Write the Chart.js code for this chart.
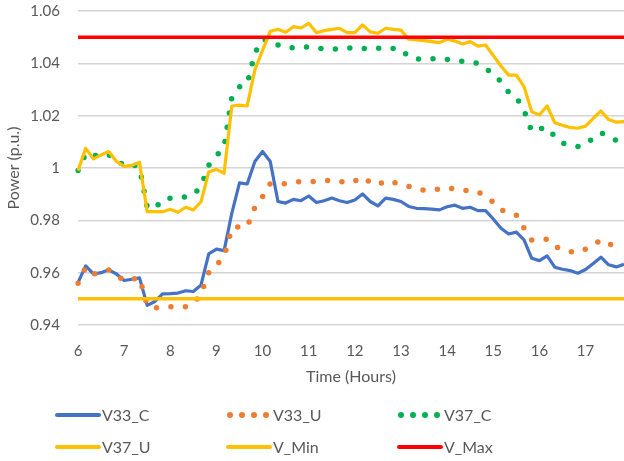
<!DOCTYPE html>
<html>
<head>
<meta charset="utf-8">
<script src="https://cdn.jsdelivr.net/npm/chart.js@4"></script>
<style>
  body { margin: 0; background: #fff; }
  canvas { display: block; }
</style>
</head>
<body>
<canvas id="chart-1" width="624" height="461"></canvas>
<script>
// time axis: 10-minute steps from 6:00 to 17:50
const hours = [6, 7, 8, 9, 10, 11, 12, 13, 14, 15, 16, 17];
const minutes = [0, 10, 20, 30, 40, 50];
const categories = [];
hours.forEach(h => minutes.forEach(m => categories.push(h + ':' + String(m).padStart(2, '0'))));

const yTicks = [0.94, 0.96, 0.98, 1.00, 1.02, 1.04, 1.06];

const v33C = [
    0.9562, 0.9626, 0.9595, 0.9600, 0.9611, 0.9595, 0.9570, 0.9575, 0.9580, 0.9475, 0.9490, 0.9519,
    0.9520, 0.9522, 0.9531, 0.9528, 0.9553, 0.9672, 0.9690, 0.9684, 0.9827, 0.9943, 0.9939, 1.0025,
    1.0063, 1.0025, 0.9872, 0.9866, 0.9880, 0.9875, 0.9893, 0.9868, 0.9875, 0.9885, 0.9875, 0.9868,
    0.9878, 0.9901, 0.9872, 0.9855, 0.9885, 0.9880, 0.9872, 0.9853, 0.9846, 0.9845, 0.9843, 0.9840,
    0.9852, 0.9858, 0.9846, 0.9850, 0.9837, 0.9837, 0.9805, 0.9770, 0.9748, 0.9755, 0.9725, 0.9655,
    0.9646, 0.9664, 0.9621, 0.9613, 0.9608, 0.9598, 0.9612, 0.9635, 0.9659, 0.9630, 0.9622, 0.9632
];
const v33U = [
    0.9560, 0.9620, 0.9595, 0.9600, 0.9610, 0.9590, 0.9570, 0.9575, 0.9580, 0.9475, 0.9465, 0.9470,
    0.9470, 0.9470, 0.9470, 0.9480, 0.9520, 0.9600, 0.9630, 0.9660, 0.9770, 0.9776, 0.9776, 0.9850,
    0.9890, 0.9940, 0.9940, 0.9940, 0.9945, 0.9948, 0.9948, 0.9948, 0.9950, 0.9954, 0.9950, 0.9942,
    0.9950, 0.9965, 0.9945, 0.9935, 0.9952, 0.9945, 0.9938, 0.9930, 0.9920, 0.9915, 0.9914, 0.9920,
    0.9925, 0.9920, 0.9916, 0.9912, 0.9910, 0.9890, 0.9870, 0.9840, 0.9830, 0.9820, 0.9770, 0.9725,
    0.9725, 0.9728, 0.9700, 0.9690, 0.9680, 0.9678, 0.9690, 0.9705, 0.9725, 0.9710, 0.9700, 0.9700
];
const v37C = [
    0.9990, 1.0055, 1.0045, 1.0055, 1.0050, 1.0030, 1.0010, 1.0015, 1.0000, 0.9850, 0.9845, 0.9880,
    0.9885, 0.9885, 0.9890, 0.9897, 0.9930, 1.0010, 1.0046, 1.0080, 1.0270, 1.0310, 1.0320, 1.0440,
    1.0490, 1.0490, 1.0470, 1.0460, 1.0460, 1.0464, 1.0462, 1.0460, 1.0455, 1.0455, 1.0455, 1.0458,
    1.0460, 1.0458, 1.0454, 1.0457, 1.0460, 1.0457, 1.0455, 1.0425, 1.0417, 1.0415, 1.0417, 1.0419,
    1.0415, 1.0410, 1.0408, 1.0406, 1.0400, 1.0380, 1.0360, 1.0330, 1.0290, 1.0270, 1.0220, 1.0140,
    1.0150, 1.0155, 1.0120, 1.0095, 1.0088, 1.0082, 1.0090, 1.0115, 1.0135, 1.0120, 1.0105, 1.0105
];
const v37U = [
    0.9990, 1.0075, 1.0035, 1.0050, 1.0063, 1.0025, 1.0006, 1.0010, 1.0022, 0.9833, 0.9833, 0.9833,
    0.9842, 0.9831, 0.9850, 0.9840, 0.9871, 0.9985, 0.9995, 0.9980, 1.0237, 1.0240, 1.0237, 1.0375,
    1.0450, 1.0522, 1.0530, 1.0519, 1.0540, 1.0535, 1.0553, 1.0517, 1.0525, 1.0530, 1.0534, 1.0517,
    1.0517, 1.0547, 1.0520, 1.0515, 1.0534, 1.0530, 1.0527, 1.0492, 1.0490, 1.0487, 1.0483, 1.0479,
    1.0492, 1.0485, 1.0474, 1.0483, 1.0466, 1.0470, 1.0430, 1.0390, 1.0355, 1.0355, 1.0311, 1.0215,
    1.0203, 1.0237, 1.0173, 1.0163, 1.0155, 1.0152, 1.0160, 1.0190, 1.0218, 1.0185, 1.0175, 1.0177
];
const vMin = 0.95;
const vMax = 1.05;

const textColor = '#595959';

// legend laid out in a 3x2 grid like the original
const gridLegend = {
    id: 'gridLegend',
    afterDraw(chart) {
        const ctx = chart.ctx;
        const cols = [57, 228, 399];
        const rows = [415, 447];
        chart.data.datasets.forEach((ds, i) => {
            const x = cols[i % 3];
            const y = rows[Math.floor(i / 3)];
            ctx.save();
            ctx.strokeStyle = ds.borderColor;
            ctx.fillStyle = ds.borderColor;
            if (ds.borderDash) {
                for (let k = 0; k < 4; k++) {
                    ctx.beginPath();
                    ctx.arc(x + 2 + k * 12, y, 3, 0, Math.PI * 2);
                    ctx.fill();
                }
            } else {
                ctx.lineWidth = 4;
                ctx.lineCap = 'round';
                ctx.beginPath();
                ctx.moveTo(x, y);
                ctx.lineTo(x + 42, y);
                ctx.stroke();
            }
            ctx.fillStyle = textColor;
            ctx.font = '16px Lato';
            ctx.textBaseline = 'middle';
            ctx.fillText(ds.label, x + 45, y + 1);
            ctx.restore();
        });
    }
};

const first = categories[0];
const last = categories[categories.length - 1];

const ctx1 = document.getElementById('chart-1').getContext('2d');
const myChart = new Chart(ctx1, {
    type: 'line',
    data: {
        labels: categories,
        datasets: [
            {
                label: 'V33_C',
                data: v33C,
                borderColor: '#4472C4',
                borderWidth: 3.2,
                order: 6
            },
            {
                label: 'V33_U',
                data: v33U,
                borderColor: '#ED7D31',
                borderWidth: 5.5,
                borderDash: [0, 14.5],
                borderCapStyle: 'round',
                order: 5
            },
            {
                label: 'V37_C',
                data: v37C,
                borderColor: '#00B050',
                borderWidth: 5.5,
                borderDash: [0, 14.5],
                borderCapStyle: 'round',
                order: 4
            },
            {
                label: 'V37_U',
                data: v37U,
                borderColor: '#FFC000',
                borderWidth: 3.2,
                order: 3
            },
            {
                label: 'V_Min',
                data: [{x: first, y: vMin}, {x: last, y: vMin}],
                borderColor: '#FFC000',
                borderWidth: 3.5,
                order: 2
            },
            {
                label: 'V_Max',
                data: [{x: first, y: vMax}, {x: last, y: vMax}],
                borderColor: '#FF0000',
                borderWidth: 3.5,
                order: 1
            }
        ]
    },
    options: {
        responsive: false,
        animation: false,
        events: [],
        elements: {
            point: { radius: 0 },
            line: { tension: 0, borderJoinStyle: 'round' }
        },
        layout: { padding: { top: 11, right: 0, bottom: 71, left: 0 } },
        plugins: {
            legend: { display: false },
            tooltip: { enabled: false }
        },
        scales: {
            x: {
                offset: false,
                grid: { display: false, drawTicks: false },
                border: { display: false },
                ticks: {
                    autoSkip: false,
                    maxRotation: 0,
                    padding: 17,
                    color: textColor,
                    font: { family: 'Lato', size: 15 },
                    callback: (v, i) => i % 6 === 0 ? categories[i].split(':')[0] : ''
                },
                title: {
                    display: true,
                    text: 'Time (Hours)',
                    color: textColor,
                    font: { family: 'Lato', size: 16 }
                },
                afterFit: s => {
                    s.height = 65;
                    s.paddingLeft = 0;
                    s.paddingRight = 0;
                }
            },
            y: {
                min: yTicks[0],
                max: yTicks[yTicks.length - 1],
                afterBuildTicks: s => { s.ticks = yTicks.map(v => ({ value: v })); },
                grid: { color: '#d4d4d4', lineWidth: 1.6, drawTicks: false },
                border: { display: false },
                ticks: {
                    padding: 18,
                    color: textColor,
                    font: { family: 'Lato', size: 15 },
                    callback: v => String(+v.toFixed(2))
                },
                title: {
                    display: true,
                    text: 'Power (p.u.)',
                    color: textColor,
                    font: { family: 'Lato', size: 16 }
                },
                afterFit: s => {
                    s.width = 78;
                    s.paddingTop = 0;
                    s.paddingBottom = 0;
                }
            }
        }
    },
    plugins: [gridLegend]
});
</script>
</body>
</html>
